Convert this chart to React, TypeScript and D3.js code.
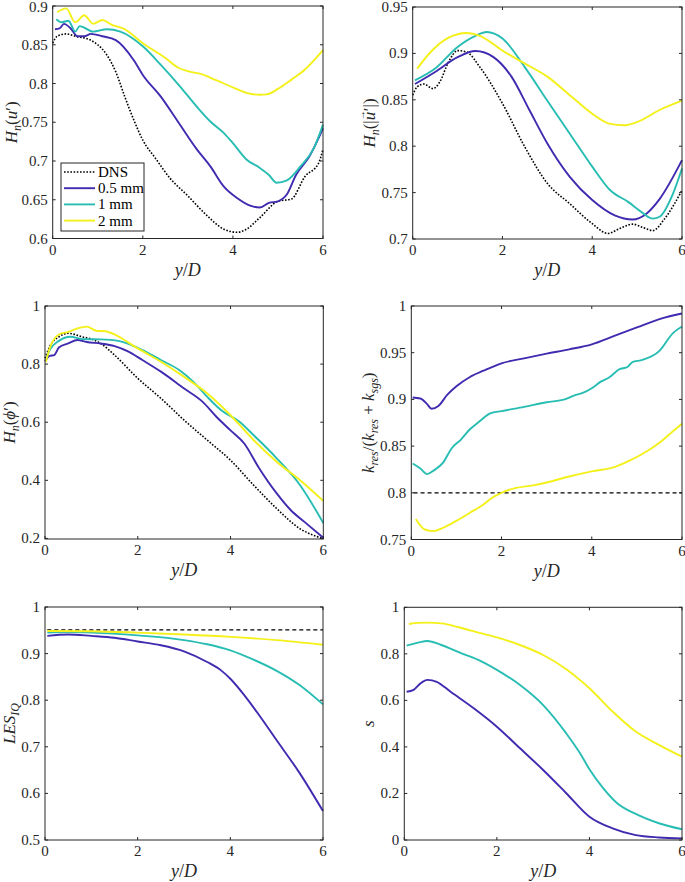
import * as d3 from 'd3';
import type { ReactNode } from 'react';

type Pt = [number, number];

const SERIES_NAMES = ['DNS', '0.5 mm', '1 mm', '2 mm'];
const COLORS = ['#000000', '#3F2BB0', '#27BDB3', '#F4F019'];
const X_TICKS = [0, 2, 4, 6];

// H_n(u')
const huDns: Pt[] = [[0, 0.852], [0.1, 0.861], [0.3, 0.864], [0.5, 0.861], [0.8, 0.857], [1.0, 0.85], [1.2, 0.837], [1.4, 0.815], [1.6, 0.783], [1.8, 0.753], [2.0, 0.727], [2.3, 0.702], [2.6, 0.678], [3.0, 0.655], [3.4, 0.631], [3.8, 0.612], [4.1, 0.608], [4.3, 0.612], [4.6, 0.627], [5.0, 0.648], [5.3, 0.651], [5.6, 0.68], [5.9, 0.697], [6.0, 0.715]];
const huFine: Pt[] = [[0.05, 0.87], [0.15, 0.871], [0.25, 0.877], [0.4, 0.871], [0.55, 0.861], [0.7, 0.861], [0.85, 0.864], [1.1, 0.861], [1.4, 0.856], [1.8, 0.83], [2.0, 0.811], [2.4, 0.783], [2.8, 0.749], [3.2, 0.715], [3.5, 0.693], [3.8, 0.667], [4.1, 0.652], [4.4, 0.642], [4.6, 0.64], [4.8, 0.646], [5.0, 0.648], [5.2, 0.657], [5.4, 0.682], [5.7, 0.706], [6.0, 0.742]];
const huMid: Pt[] = [[0.08, 0.883], [0.2, 0.879], [0.35, 0.881], [0.5, 0.867], [0.6, 0.874], [0.9, 0.867], [1.2, 0.87], [1.5, 0.867], [2.0, 0.848], [2.4, 0.824], [2.8, 0.798], [3.2, 0.77], [3.5, 0.751], [3.8, 0.736], [4.0, 0.723], [4.3, 0.702], [4.6, 0.691], [4.8, 0.682], [4.97, 0.672], [5.2, 0.675], [5.5, 0.693], [5.8, 0.717], [6.0, 0.747]];
const huCoarse: Pt[] = [[0.1, 0.892], [0.3, 0.897], [0.5, 0.879], [0.7, 0.888], [0.9, 0.877], [1.1, 0.882], [1.3, 0.876], [1.6, 0.87], [2.0, 0.852], [2.5, 0.833], [2.8, 0.82], [3.0, 0.816], [3.3, 0.812], [3.6, 0.805], [4.0, 0.795], [4.3, 0.788], [4.6, 0.7854], [4.75, 0.786], [5.0, 0.793], [5.3, 0.805], [5.6, 0.818], [6.0, 0.843]];

// H_n(|u'|)
const hvDns: Pt[] = [[0, 0.855], [0.1, 0.864], [0.25, 0.867], [0.45, 0.862], [0.6, 0.869], [0.8, 0.891], [1.0, 0.903], [1.2, 0.9015], [1.5, 0.885], [2.0, 0.846], [2.5, 0.799], [3.0, 0.76], [3.5, 0.738], [4.0, 0.7165], [4.35, 0.706], [4.6, 0.711], [4.9, 0.716], [5.15, 0.712], [5.35, 0.709], [5.6, 0.721], [6.0, 0.7525]];
const hvFine: Pt[] = [[0.05, 0.867], [0.5, 0.88], [1.0, 0.896], [1.4, 0.9026], [1.8, 0.896], [2.2, 0.875], [2.6, 0.839], [3.0, 0.803], [3.5, 0.767], [4.0, 0.742], [4.5, 0.7255], [4.9, 0.721], [5.2, 0.727], [5.5, 0.743], [6.0, 0.785]];
const hvMid: Pt[] = [[0.05, 0.871], [0.5, 0.8836], [1.0, 0.907], [1.4, 0.919], [1.65, 0.923], [2.0, 0.916], [2.5, 0.885], [3.0, 0.849], [3.5, 0.8135], [4.0, 0.778], [4.4, 0.7525], [4.8, 0.74], [5.1, 0.729], [5.35, 0.722], [5.5, 0.724], [5.8, 0.749], [6.0, 0.776]];
const hvCoarse: Pt[] = [[0.1, 0.8836], [0.4, 0.9015], [0.8, 0.917], [1.2, 0.922], [1.5, 0.919], [2.0, 0.903], [2.5, 0.889], [3.0, 0.875], [3.5, 0.855], [4.0, 0.835], [4.4, 0.824], [4.7, 0.8225], [5.0, 0.826], [5.5, 0.839], [6.0, 0.849]];

// H_n(phi')
const hpDns: Pt[] = [[0, 0.82], [0.1, 0.86], [0.3, 0.894], [0.5, 0.906], [0.8, 0.894], [1.0, 0.886], [1.2, 0.871], [1.5, 0.831], [2.0, 0.751], [2.5, 0.682], [3.0, 0.607], [3.5, 0.538], [4.0, 0.469], [4.5, 0.383], [5.0, 0.302], [5.5, 0.233], [5.8, 0.21], [6.0, 0.199]];
const hpFine: Pt[] = [[0, 0.81], [0.1, 0.828], [0.2, 0.831], [0.3, 0.857], [0.5, 0.871], [0.7, 0.883], [0.9, 0.876], [1.2, 0.871], [1.5, 0.862], [1.8, 0.843], [2.1, 0.814], [2.5, 0.774], [3.0, 0.716], [3.4, 0.67], [3.7, 0.618], [4.0, 0.572], [4.3, 0.526], [4.6, 0.446], [5.0, 0.354], [5.3, 0.297], [5.6, 0.256], [6.0, 0.202]];
const hpMid: Pt[] = [[0.02, 0.814], [0.1, 0.848], [0.3, 0.88], [0.55, 0.894], [0.8, 0.886], [1.2, 0.885], [1.6, 0.879], [2.0, 0.856], [2.5, 0.814], [2.9, 0.779], [3.2, 0.739], [3.5, 0.687], [3.8, 0.641], [4.2, 0.601], [4.5, 0.555], [5.0, 0.475], [5.5, 0.383], [6.0, 0.253]];
const hpCoarse: Pt[] = [[0.02, 0.808], [0.1, 0.854], [0.3, 0.902], [0.5, 0.911], [0.7, 0.923], [0.9, 0.929], [1.1, 0.915], [1.3, 0.913], [1.5, 0.902], [1.8, 0.874], [2.0, 0.854], [2.5, 0.808], [3.0, 0.756], [3.5, 0.699], [4.0, 0.624], [4.5, 0.538], [5.0, 0.463], [5.5, 0.4], [6.0, 0.329]];

// k_res / (k_res + k_sgs)
const krFine: Pt[] = [[0.03, 0.902], [0.2, 0.901], [0.35, 0.895], [0.45, 0.89], [0.6, 0.893], [0.8, 0.905], [1.0, 0.914], [1.3, 0.924], [1.6, 0.9307], [2.0, 0.9386], [2.5, 0.944], [3.0, 0.949], [3.5, 0.9536], [4.0, 0.959], [4.5, 0.968], [5.0, 0.977], [5.5, 0.986], [6.0, 0.992]];
const krMid: Pt[] = [[0.03, 0.8314], [0.2, 0.826], [0.35, 0.82], [0.5, 0.824], [0.7, 0.832], [0.9, 0.848], [1.1, 0.857], [1.3, 0.868], [1.5, 0.876], [1.75, 0.885], [2.0, 0.8875], [2.5, 0.892], [3.0, 0.897], [3.4, 0.9], [3.6, 0.904], [3.8, 0.907], [4.0, 0.912], [4.2, 0.919], [4.4, 0.924], [4.6, 0.932], [4.8, 0.935], [4.9, 0.94], [5.1, 0.942], [5.5, 0.952], [5.8, 0.971], [6.0, 0.978]];
const krCoarse: Pt[] = [[0.1, 0.772], [0.3, 0.7607], [0.5, 0.759], [0.7, 0.7625], [1.0, 0.77], [1.3, 0.7786], [1.6, 0.7875], [1.8, 0.795], [2.0, 0.8], [2.3, 0.805], [2.7, 0.808], [3.0, 0.811], [3.5, 0.8175], [4.0, 0.823], [4.5, 0.8275], [4.8, 0.8336], [5.1, 0.841], [5.5, 0.8536], [5.8, 0.866], [6.0, 0.874]];

// LES_IQ
const lesFine: Pt[] = [[0.05, 0.938], [0.5, 0.941], [1.0, 0.938], [1.5, 0.934], [2.0, 0.926], [2.5, 0.918], [3.0, 0.905], [3.5, 0.882], [3.8, 0.864], [4.0, 0.846], [4.3, 0.811], [4.6, 0.771], [5.0, 0.714], [5.5, 0.643], [6.0, 0.562]];
const lesMid: Pt[] = [[0.05, 0.945], [0.5, 0.946], [1.0, 0.945], [2.0, 0.939], [3.0, 0.929], [3.5, 0.92], [4.0, 0.907], [4.5, 0.887], [5.0, 0.863], [5.5, 0.832], [6.0, 0.791]];
const lesCoarse: Pt[] = [[0.05, 0.9486], [1.0, 0.948], [2.0, 0.945], [3.0, 0.941], [4.0, 0.936], [5.0, 0.929], [6.0, 0.919]];

// s
const sFine: Pt[] = [[0.05, 0.637], [0.2, 0.645], [0.35, 0.673], [0.5, 0.688], [0.7, 0.68], [1.0, 0.637], [1.5, 0.566], [2.0, 0.487], [2.5, 0.394], [3.0, 0.301], [3.5, 0.201], [4.0, 0.1], [4.5, 0.05], [5.0, 0.021], [5.5, 0.011], [6.0, 0.007]];
const sMid: Pt[] = [[0.05, 0.835], [0.3, 0.848], [0.5, 0.855], [0.8, 0.838], [1.2, 0.805], [1.6, 0.774], [2.0, 0.731], [2.5, 0.666], [3.0, 0.58], [3.5, 0.458], [3.8, 0.372], [4.0, 0.304], [4.3, 0.222], [4.6, 0.158], [5.0, 0.112], [5.5, 0.072], [6.0, 0.046]];
const sCoarse: Pt[] = [[0.1, 0.928], [0.3, 0.933], [0.5, 0.934], [0.8, 0.931], [1.2, 0.913], [1.6, 0.891], [2.0, 0.871], [2.5, 0.838], [3.0, 0.795], [3.5, 0.734], [4.0, 0.652], [4.5, 0.552], [5.0, 0.466], [5.5, 0.409], [6.0, 0.358]];

const FONT = '"Liberation Serif", "DejaVu Serif", serif';
const AXIS = '#262626';

interface Series { data: Pt[]; color: string; dotted?: boolean }

interface PanelProps {
  left: number; top: number; right: number; bottom: number;
  yDomain: [number, number];
  yTicks: number[];
  series: Series[];
  yLabel: ReactNode;
  labelX: number;
  refLine?: number;
  legend?: boolean;
}

function Panel({ left, top, right, bottom, yDomain, yTicks, series, yLabel, labelX, refLine, legend }: PanelProps) {
  const x = d3.scaleLinear().domain([0, 6]).range([left, right]);
  const y = d3.scaleLinear().domain(yDomain).range([bottom, top]);
  const line = d3.line<Pt>().x(d => x(d[0])).y(d => y(d[1])).curve(d3.curveMonotoneX);
  const fmt = d3.format('~g');
  const tl = 3;
  const midY = (top + bottom) / 2;

  return (
    <g>
      {refLine !== undefined && (
        <line x1={x(0.05)} x2={x(6)} y1={y(refLine)} y2={y(refLine)} stroke="#000" strokeWidth={1.2} strokeDasharray="4 3" />
      )}
      {series.map((s, i) => (
        <path key={i} d={line(s.data) ?? ''} fill="none" stroke={s.color}
          strokeWidth={s.dotted ? 1.6 : 1.9} strokeDasharray={s.dotted ? '1.6 1.6' : undefined} />
      ))}
      <rect x={left} y={top} width={right - left} height={bottom - top} fill="none" stroke={AXIS} strokeWidth={1} />
      {X_TICKS.map(t => (
        <g key={'x' + t}>
          <line x1={x(t)} x2={x(t)} y1={bottom} y2={bottom - tl} stroke={AXIS} />
          <line x1={x(t)} x2={x(t)} y1={top} y2={top + tl} stroke={AXIS} />
          <text x={x(t)} y={bottom + 16} textAnchor="middle" fontSize={15} fill={AXIS}>{t}</text>
        </g>
      ))}
      {yTicks.map(t => (
        <g key={'y' + t}>
          <line x1={left} x2={left + tl} y1={y(t)} y2={y(t)} stroke={AXIS} />
          <line x1={right} x2={right - tl} y1={y(t)} y2={y(t)} stroke={AXIS} />
          <text x={left - 5} y={Math.max(y(t) + 5, 12)} textAnchor="end" fontSize={15} fill={AXIS}>{fmt(t)}</text>
        </g>
      ))}
      <text x={(left + right) / 2} y={bottom + 37} textAnchor="middle" fontSize={18} fontStyle="italic" fill={AXIS}>
        y<tspan fontStyle="normal">/</tspan>D
      </text>
      <text transform={`translate(${labelX},${midY}) rotate(-90)`} textAnchor="middle" fontSize={17} fill={AXIS}>
        {yLabel}
      </text>
      {legend && (
        <g>
          <rect x={61} y={163} width={83} height={68} fill="#fff" stroke={AXIS} strokeWidth={1} />
          {series.map((s, i) => {
            const ly = 172 + i * 16.2;
            return (
              <g key={'l' + i}>
                <line x1={64} x2={95} y1={ly} y2={ly} stroke={s.color}
                  strokeWidth={s.dotted ? 1.6 : 1.9} strokeDasharray={s.dotted ? '1.6 1.6' : undefined} />
                <text x={98} y={ly + 5} fontSize={15} fill="#000">{SERIES_NAMES[i]}</text>
              </g>
            );
          })}
        </g>
      )}
    </g>
  );
}

const sub = (s: string) => <tspan fontSize={12} fontStyle="italic" dy={4}>{s}</tspan>;

export default function App() {
  const mk = (dns: Pt[] | null, a: Pt[], b: Pt[], c: Pt[]): Series[] => {
    const out: Series[] = [];
    if (dns) out.push({ data: dns, color: COLORS[0], dotted: true });
    out.push({ data: a, color: COLORS[1] }, { data: b, color: COLORS[2] }, { data: c, color: COLORS[3] });
    return out;
  };

  return (
    <svg width={685} height={882} style={{ position: 'absolute', left: 0, top: 0, background: '#fff' }} fontFamily={FONT}>
      <Panel left={52.7} top={6} right={323} bottom={238.5} yDomain={[0.6, 0.9]}
        yTicks={[0.6, 0.65, 0.7, 0.75, 0.8, 0.85, 0.9]} series={mk(huDns, huFine, huMid, huCoarse)} legend
        labelX={17}
        yLabel={<><tspan fontStyle="italic">H</tspan>{sub('n')}<tspan dy={-4}>(</tspan><tspan fontStyle="italic">u</tspan>′)</>} />
      <Panel left={412.7} top={7} right={682} bottom={239} yDomain={[0.7, 0.95]}
        yTicks={[0.7, 0.75, 0.8, 0.85, 0.9, 0.95]} series={mk(hvDns, hvFine, hvMid, hvCoarse)}
        labelX={375}
        yLabel={<><tspan fontStyle="italic">H</tspan>{sub('n')}<tspan dy={-4}>(|</tspan><tspan fontStyle="italic">u</tspan><tspan dx={-8.5} dy={-10} fontSize={10}>→</tspan><tspan dx={-1} dy={10}>′|)</tspan></>} />
      <Panel left={45} top={306} right={323.3} bottom={539} yDomain={[0.198, 1]}
        yTicks={[0.2, 0.4, 0.6, 0.8, 1]} series={mk(hpDns, hpFine, hpMid, hpCoarse)}
        labelX={15}
        yLabel={<><tspan fontStyle="italic">H</tspan>{sub('n')}<tspan dy={-4}>(</tspan><tspan fontStyle="italic">ϕ</tspan>′)</>} />
      <Panel left={411.3} top={306} right={682} bottom={539.5} yDomain={[0.75, 1]}
        yTicks={[0.75, 0.8, 0.85, 0.9, 0.95, 1]} series={mk(null, krFine, krMid, krCoarse)} refLine={0.8}
        labelX={374}
        yLabel={<><tspan fontStyle="italic">k</tspan>{sub('res')}<tspan dy={-4}>/(</tspan><tspan fontStyle="italic">k</tspan>{sub('res')}<tspan dy={-4}> + </tspan><tspan fontStyle="italic">k</tspan>{sub('sgs')}<tspan dy={-4}>)</tspan></>} />
      <Panel left={45} top={607} right={323} bottom={840} yDomain={[0.5, 1]}
        yTicks={[0.5, 0.6, 0.7, 0.8, 0.9, 1]} series={mk(null, lesFine, lesMid, lesCoarse)} refLine={0.951}
        labelX={15}
        yLabel={<><tspan fontStyle="italic">LES</tspan>{sub('IQ')}</>} />
      <Panel left={404.3} top={607.3} right={682} bottom={840} yDomain={[0, 1]}
        yTicks={[0, 0.2, 0.4, 0.6, 0.8, 1]} series={mk(null, sFine, sMid, sCoarse)}
        labelX={374}
        yLabel={<tspan fontStyle="italic">s</tspan>} />
    </svg>
  );
}
